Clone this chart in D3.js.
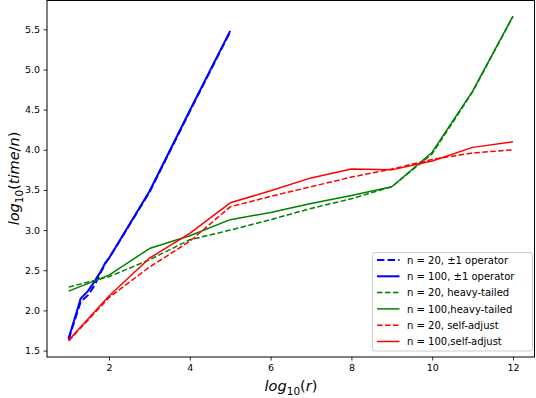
<!DOCTYPE html>
<html>
<head>
<meta charset="utf-8">
<script src="https://cdn.jsdelivr.net/npm/d3@7/dist/d3.min.js"></script>
<style>
  html, body { margin: 0; padding: 0; background: #fff; }
  svg { display: block; }
  text { font-family: "DejaVu Sans", sans-serif; }
</style>
</head>
<body>
<script>
// ---- data (log10(r) on x, log10(time/n) on y) ----
const xInt = [1, 2, 3, 4, 5, 6, 7, 8, 9, 10, 11, 12];
const xBlue = [1, 1.301, 1.477, 1.602, 1.699, 1.778, 1.845, 1.903, 1.954, 2, 3, 4, 5];

const blueN20  = [1.64, 2.11, 2.19, 2.28, 2.37, 2.46, 2.52, 2.58, 2.62, 2.65, 3.47, 4.48, 5.47];
const blueN100 = [1.65, 2.15, 2.24, 2.33, 2.41, 2.47, 2.53, 2.59, 2.62, 2.65, 3.48, 4.49, 5.48];
const greenN20  = [2.29, 2.42, 2.63, 2.88, 3.00, 3.13, 3.27, 3.39, 3.54, 3.95, 4.72, 5.66];
const greenN100 = [2.24, 2.44, 2.77, 2.93, 3.13, 3.22, 3.33, 3.43, 3.54, 3.97, 4.73, 5.665];
const redN20  = [1.62, 2.16, 2.54, 2.86, 3.29, 3.42, 3.54, 3.66, 3.76, 3.88, 3.96, 4.00];
const redN100 = [1.63, 2.18, 2.65, 2.96, 3.34, 3.49, 3.65, 3.76, 3.75, 3.86, 4.03, 4.10];

const xTicks = [2, 4, 6, 8, 10, 12];
const yTicks = [1.5, 2.0, 2.5, 3.0, 3.5, 4.0, 4.5, 5.0, 5.5];

const seriesNames = ["n = 20, \u00b11 operator", "n = 100, \u00b11 operator",
                     "n = 20, heavy-tailed", "n = 100,heavy-tailed",
                     "n = 20, self-adjust", "n = 100,self-adjust"];

// ---- layout ----
const W = 536, H = 398;
const L = 47, R = 535, T = 0, B = 357;

const svg = d3.select("body").append("svg").attr("width", W).attr("height", H);

const x = d3.scaleLinear().domain([0.465, 12.545]).range([L, R]);
const y = d3.scaleLinear().domain([1.42, 5.865]).range([B, T]);

// axes
const xAxis = d3.axisBottom(x).tickValues(xTicks).tickSize(3.5).tickPadding(3.5).tickFormat(d3.format("d"));
const yAxis = d3.axisLeft(y).tickValues(yTicks).tickSize(3.5).tickPadding(3.5).tickFormat(d3.format(".1f"));

const gx = svg.append("g").attr("transform", `translate(0,${B})`).call(xAxis);
const gy = svg.append("g").attr("transform", `translate(${L},0)`).call(yAxis);
[gx, gy].forEach(g => {
  g.select(".domain").remove();
  g.selectAll(".tick line").attr("stroke", "#000").attr("stroke-width", 0.8);
  g.selectAll(".tick text").attr("fill", "#000").style("font-size", "9.5px")
    .style("font-family", "DejaVu Sans, sans-serif");
});

// series
const defs = [
  {xs: xBlue, ys: blueN20,  color: "#0000ff", w: 2,   dash: "7.4,3.2"},
  {xs: xBlue, ys: blueN100, color: "#0000ff", w: 2,   dash: null},
  {xs: xInt,  ys: greenN20, color: "#008000", w: 1.5, dash: "5.55,2.4"},
  {xs: xInt,  ys: greenN100,color: "#008000", w: 1.5, dash: null},
  {xs: xInt,  ys: redN20,   color: "#ff0000", w: 1.5, dash: "5.55,2.4"},
  {xs: xInt,  ys: redN100,  color: "#ff0000", w: 1.5, dash: null}
];

const line = d3.line().x(d => x(d[0])).y(d => y(d[1]));
defs.forEach(s => {
  const pts = s.xs.map((v, i) => [v, s.ys[i]]);
  svg.append("path").datum(pts).attr("d", line)
    .attr("fill", "none").attr("stroke", s.color).attr("stroke-width", s.w)
    .attr("stroke-dasharray", s.dash).attr("stroke-linejoin", "round");
});

// frame
svg.append("rect").attr("x", L).attr("y", T + 0.5).attr("width", R - L - 0.5).attr("height", B - T - 0.5)
  .attr("fill", "none").attr("stroke", "#000").attr("stroke-width", 1);

// legend
const lg = svg.append("g");
lg.append("rect").attr("x", 372.5).attr("y", 252.5).attr("width", 160).attr("height", 98.5)
  .attr("rx", 2.5).attr("fill", "#fff").attr("fill-opacity", 0.8)
  .attr("stroke", "#cccccc").attr("stroke-width", 1);
seriesNames.forEach((name, i) => {
  const yy = 260 + i * 16.3;
  lg.append("line").attr("x1", 377).attr("x2", 399.5).attr("y1", yy).attr("y2", yy)
    .attr("stroke", defs[i].color).attr("stroke-width", defs[i].w)
    .attr("stroke-dasharray", defs[i].dash);
  lg.append("text").attr("x", 407).attr("y", yy + 3.6).text(name)
    .style("font-size", "10px").attr("fill", "#000");
});

// axis labels (mathtext style)
const xl = svg.append("text").attr("x", 291).attr("y", 391).attr("text-anchor", "middle")
  .style("font-size", "14.5px").attr("fill", "#000");
xl.append("tspan").style("font-style", "italic").text("log");
xl.append("tspan").attr("dy", 3.5).style("font-size", "10.5px").text("10");
xl.append("tspan").attr("dy", -3.5).text("(");
xl.append("tspan").style("font-style", "italic").text("r");
xl.append("tspan").text(")");

const yl = svg.append("text").attr("transform", `translate(19,${(T + B) / 2}) rotate(-90)`)
  .attr("text-anchor", "middle").style("font-size", "14.5px").attr("fill", "#000");
yl.append("tspan").style("font-style", "italic").text("log");
yl.append("tspan").attr("dy", 3.5).style("font-size", "10.5px").text("10");
yl.append("tspan").attr("dy", -3.5).text("(");
yl.append("tspan").style("font-style", "italic").text("time");
yl.append("tspan").text("/");
yl.append("tspan").style("font-style", "italic").text("n");
yl.append("tspan").text(")");
</script>
</body>
</html>
